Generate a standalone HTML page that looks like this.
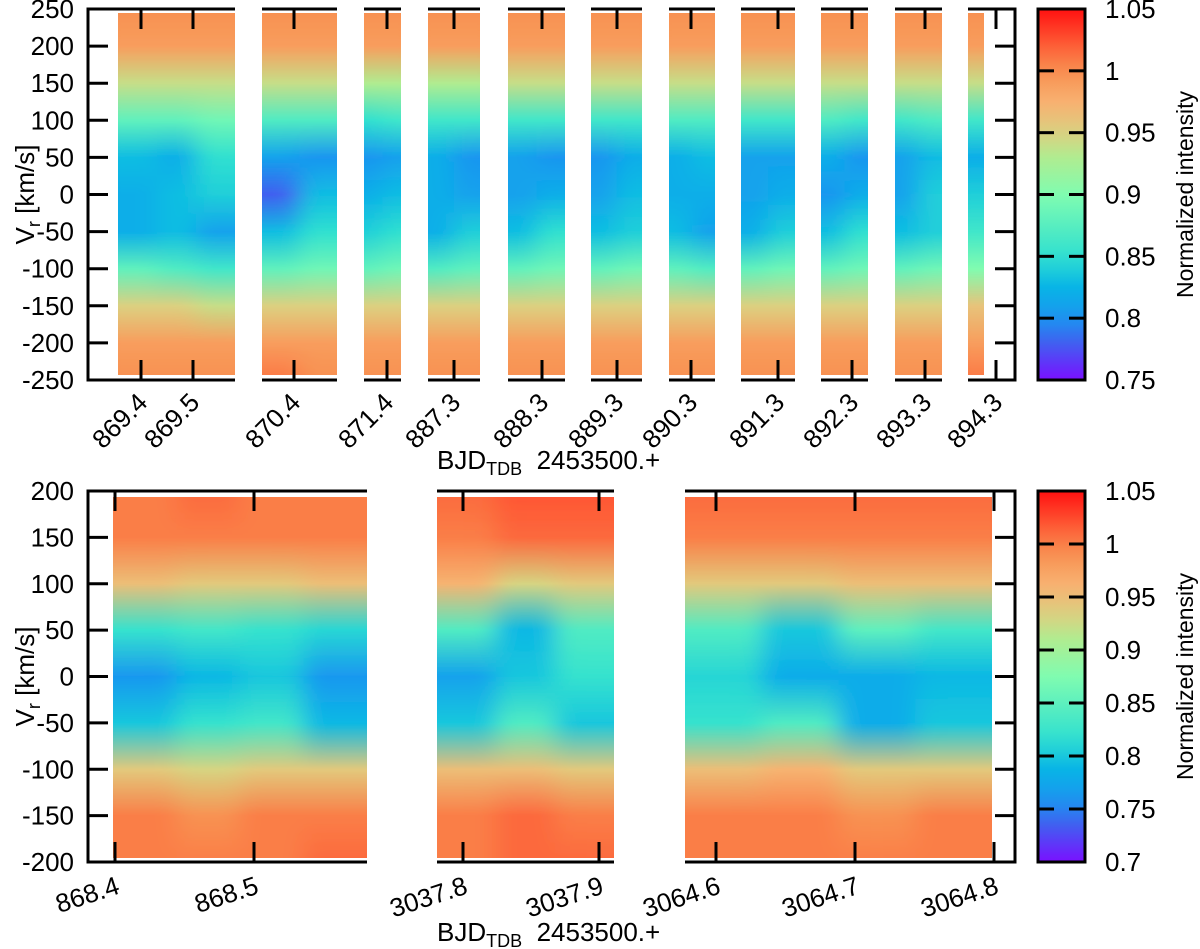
<!DOCTYPE html>
<html><head><meta charset="utf-8"><style>
html,body{margin:0;padding:0;background:#fff}
svg{display:block}
text{font-family:"Liberation Sans",sans-serif;fill:#000}
</style></head><body>
<svg id="fig" width="1200" height="949" viewBox="0 0 1200 949" xmlns="http://www.w3.org/2000/svg">
<defs id="defs">
<filter id="hblur" x="-20%" y="0" width="140%" height="100%"><feGaussianBlur stdDeviation="12 0"/></filter>
</defs>
<g id="top"></g>
<g id="bot"></g>
</svg>
<script>
// ---------- data ----------
const topVel = [250,200,150,100,50,0,-50,-100,-150,-200,-250];
const topTicks = ["869.4","869.5","870.4","871.4","887.3","888.3","889.3","890.3","891.3","892.3","893.3","894.3"];
const topYTicks = [250,200,150,100,50,0,-50,-100,-150,-200,-250];
const topCbTicks = ["1.05","1","0.95","0.9","0.85","0.8","0.75"];
const topStrip1 = [[1.0,0.99,0.94,0.88,0.83,0.82,0.82,0.88,0.95,0.99,1.0],[1.0,0.99,0.94,0.88,0.82,0.83,0.83,0.87,0.95,0.99,1.0],[1.0,0.99,0.94,0.89,0.85,0.84,0.81,0.86,0.94,0.99,1.0]];
const topStrip2 = [[1.0,0.99,0.94,0.87,0.81,0.78,0.83,0.88,0.95,0.99,1.01],[1.0,0.99,0.94,0.87,0.80,0.83,0.85,0.89,0.95,0.99,1.0]];
const topStrip3 = [[1.0,0.99,0.93,0.85,0.80,0.82,0.84,0.88,0.95,0.99,1.0],[1.0,0.99,0.93,0.86,0.81,0.83,0.85,0.89,0.95,0.99,1.0]];
const topStrip4 = [[1.0,0.99,0.93,0.86,0.82,0.82,0.82,0.87,0.95,0.99,1.0],[1.0,0.99,0.93,0.86,0.80,0.81,0.84,0.88,0.95,0.99,1.0]];
const topStrip5 = [[1.0,0.99,0.94,0.86,0.81,0.81,0.83,0.88,0.95,0.99,1.0],[1.0,0.99,0.94,0.86,0.80,0.82,0.85,0.89,0.95,0.99,1.0]];
const topStrip6 = [[1.0,0.99,0.94,0.86,0.80,0.81,0.83,0.88,0.95,0.99,1.0],[1.0,0.99,0.94,0.86,0.82,0.83,0.84,0.89,0.95,0.99,1.0]];
const topStrip7 = [[1.0,0.99,0.94,0.87,0.82,0.82,0.83,0.88,0.95,0.99,1.0],[1.0,0.99,0.94,0.87,0.83,0.82,0.81,0.87,0.95,0.99,1.0]];
const topStrip8 = [[1.0,0.99,0.94,0.86,0.81,0.81,0.82,0.88,0.95,0.99,1.0],[1.0,0.99,0.94,0.86,0.81,0.82,0.84,0.89,0.95,0.99,1.0]];
const topStrip9 = [[1.0,0.99,0.94,0.87,0.82,0.80,0.83,0.88,0.95,0.99,1.0],[1.0,0.99,0.94,0.86,0.80,0.82,0.85,0.89,0.95,0.99,1.0]];
const topStrip10 = [[1.0,0.99,0.94,0.86,0.81,0.81,0.83,0.88,0.95,0.99,1.0],[1.0,0.99,0.94,0.87,0.83,0.84,0.84,0.89,0.95,0.99,1.0]];
const topStrip11 = [[1.0,0.99,0.94,0.86,0.82,0.84,0.86,0.90,0.96,0.99,1.01]];

const botVel = [200,150,100,50,0,-50,-100,-150,-200];
const botTicks = ["868.4","868.5","3037.8","3037.9","3064.6","3064.7","3064.8"];
const botYTicks = [200,150,100,50,0,-50,-100,-150,-200];
const botCbTicks = ["1.05","1","0.95","0.9","0.85","0.8","0.75","0.7"];
const botStrip1 = [[1.0,1.0,0.95,0.82,0.76,0.80,0.94,1.0,1.0],[1.01,1.0,0.94,0.83,0.79,0.82,0.93,0.99,1.0],[1.0,1.0,0.94,0.82,0.80,0.83,0.94,1.0,1.0],[1.0,1.0,0.95,0.81,0.76,0.79,0.94,1.0,1.01]];
const botStrip2 = [[1.01,1.0,0.96,0.84,0.77,0.80,0.95,1.0,1.0],[1.02,1.01,0.93,0.79,0.80,0.84,0.95,1.01,1.01],[1.02,1.01,0.94,0.84,0.82,0.80,0.94,1.0,1.01]];
const botStrip3 = [[1.01,1.0,0.94,0.84,0.81,0.82,0.95,1.0,1.0],[1.01,1.0,0.94,0.80,0.78,0.84,0.96,1.0,1.0],[1.01,1.0,0.95,0.85,0.78,0.78,0.94,0.99,1.0],[1.01,1.0,0.95,0.83,0.79,0.80,0.94,1.0,1.0]];

// ---------- colormap ----------
const CM=[[0,[122,16,255]],[0.1,[64,96,240]],[0.167,[26,150,240]],[0.25,[8,180,230]],[0.333,[48,224,208]],[0.5,[128,252,176]],[0.6,[176,236,144]],[0.667,[220,208,128]],[0.75,[248,176,112]],[0.833,[248,144,80]],[0.92,[255,80,48]],[1,[255,16,16]]];
function cmap(t){t=Math.max(0,Math.min(1,t));for(let i=1;i<CM.length;i++){if(t<=CM[i][0]){const a=CM[i-1],b=CM[i],f=(t-a[0])/(b[0]-a[0]);const c=a[1].map((v,k)=>Math.round(v+(b[1][k]-v)*f));return `rgb(${c[0]},${c[1]},${c[2]})`;}}return 'rgb(255,16,16)';}

const NS="http://www.w3.org/2000/svg";
const defs=document.getElementById('defs');
let gid=0;
function el(tag,attrs,parent){const e=document.createElementNS(NS,tag);for(const k in attrs)e.setAttribute(k,attrs[k]);parent.appendChild(e);return e;}

function drawPanel(g,cfg){
  const {y0,y1,vmax,vmin,cmin,cmax,vel,strips,tickX,tickLabels,yTicks,cbTicks,rot,segs,stripY0,stripY1,labelY,labelDx,xlabY}=cfg;
  const yS=v=>y0+(vmax-v)/(vmax-vmin)*(y1-y0);
  const cS=c=>y1-(c-cmin)/(cmax-cmin)*(y1-y0);
  strips.forEach((s,si)=>{
    const clipId='clip'+(gid++);
    const cp=el('clipPath',{id:clipId},defs);
    el('rect',{x:s.x0,y:stripY0,width:s.x1-s.x0,height:stripY1-stripY0},cp);
    const sg=el('g',{'clip-path':`url(#${clipId})`},g);
    
    
    const inner=el('g',{filter:'url(#hblur)'},sg);
    const n=s.data.length, w=(s.x1-s.x0)/n;
    s.data.forEach((col,ci)=>{
      const id='gr'+(gid++);
      const lg=el('linearGradient',{id:id,x1:0,y1:yS(vel[0]),x2:0,y2:yS(vel[vel.length-1]),gradientUnits:'userSpaceOnUse'},defs);
      col.forEach((val,k)=>{
        const off=(yS(vel[k])-yS(vel[0]))/(yS(vel[vel.length-1])-yS(vel[0]));
        el('stop',{offset:off,'stop-color':cmap((val-cmin)/(cmax-cmin))},lg);
      });
      let x=s.x0+ci*w, ww=w+0.6;
      if(ci===0){x-=30;ww+=30;}
      if(ci===n-1){ww+=30;}
      const r=el('rect',{x:x.toFixed(2),y:stripY0,width:ww.toFixed(2),height:stripY1-stripY0,fill:`url(#${id})`},inner);
      
      
    });
  });
  const ax=el('g',{stroke:'#000','stroke-width':3,fill:'none'},g);
  
  
  el('line',{x1:88,y1:y0-1.5,x2:88,y2:y1+1.5},ax);
  el('line',{x1:1015,y1:y0-1.5,x2:1015,y2:y1+1.5},ax);
  segs.forEach(sg=>{el('line',{x1:sg[0],y1:y0,x2:sg[1],y2:y0},ax);el('line',{x1:sg[0],y1:y1,x2:sg[1],y2:y1},ax);});
  yTicks.forEach(v=>{
    const y=yS(v);
    el('line',{x1:88,y1:y,x2:108,y2:y},ax);
    el('line',{x1:995,y1:y,x2:1015,y2:y},ax);
    const t=el('text',{x:74,y:y+9,'text-anchor':'end','font-size':26},g);
    t.textContent=v;
    
    
  });
  tickLabels.forEach((lab,i)=>{
    const x=tickX[i];
    el('line',{x1:x,y1:y0,x2:x,y2:y0+20},ax);
    el('line',{x1:x,y1:y1,x2:x,y2:y1-20},ax);
    const tx=x+labelDx;
    const t=el('text',{x:tx,y:labelY,'text-anchor':'end','font-size':26,transform:`rotate(${rot} ${tx} ${labelY})`},g);
    t.textContent=lab;
    
    
  });
  const yl=el('text',{x:0,y:0,'font-size':26,transform:`translate(34 ${(y0+y1)/2}) rotate(-90)`,'text-anchor':'middle'},g);
  yl.innerHTML='V<tspan font-size="18" dy="6">r</tspan><tspan dy="-6"> [km/s]</tspan>';
  
  
  const xl=el('text',{x:437,y:xlabY,'font-size':26},g);
  xl.innerHTML='BJD<tspan font-size="18" dy="6">TDB</tspan><tspan dy="-6" xml:space="preserve">  2453500.+</tspan>';
  
  
  const cid='cb'+(gid++);
  const cg=el('linearGradient',{id:cid,x1:0,y1:1,x2:0,y2:0},defs);
  for(let i=0;i<=20;i++)el('stop',{offset:i/20,'stop-color':cmap(i/20)},cg);
  const cb=el('g',{},g);
  
  
  el('rect',{x:1038,y:y0,width:47,height:y1-y0,fill:`url(#${cid})`,stroke:'#000','stroke-width':3},cb);
  cbTicks.forEach(lab=>{
    const y=cS(parseFloat(lab));
    if(y>y0+2&&y<y1-2){el('line',{x1:1038,y1:y,x2:1054,y2:y,stroke:'#000','stroke-width':3},cb);el('line',{x1:1069,y1:y,x2:1085,y2:y,stroke:'#000','stroke-width':3},cb);}
    const t=el('text',{x:1105,y:y+9,'font-size':26},cb);
    t.textContent=lab;
    
    
  });
  const ct=el('text',{x:0,y:0,'font-size':23,'text-anchor':'middle',transform:`translate(1193 ${(y0+y1)/2}) rotate(-90)`},cb);
  ct.textContent='Normalized intensity';
  
  
}

drawPanel(document.getElementById('top'),{
  y0:9,y1:380,vmax:250,vmin:-250,cmin:0.75,cmax:1.05,vel:topVel,stripY0:13,stripY1:375,
  strips:[{x0:118,x1:235,data:topStrip1},{x0:262,x1:337,data:topStrip2},{x0:364,x1:401,data:topStrip3},{x0:428,x1:480,data:topStrip4},{x0:508,x1:565,data:topStrip5},{x0:591,x1:642,data:topStrip6},{x0:669,x1:715,data:topStrip7},{x0:741,x1:795,data:topStrip8},{x0:821,x1:868,data:topStrip9},{x0:895,x1:942,data:topStrip10},{x0:968,x1:984,data:topStrip11}],
  segs:[[88,235],[262,337],[364,401],[428,480],[508,565],[591,642],[669,715],[741,795],[821,868],[895,942],[968,1015]],
  tickX:[141,193,294,387,454,542,617,691,778,852,925,996],tickLabels:topTicks,yTicks:topYTicks,cbTicks:topCbTicks,rot:-45,labelY:404,labelDx:8,xlabY:469
});
drawPanel(document.getElementById('bot'),{
  y0:491,y1:862,vmax:200,vmin:-200,cmin:0.7,cmax:1.05,vel:botVel,stripY0:497,stripY1:858,
  strips:[{x0:113,x1:367,data:botStrip1},{x0:437,x1:614,data:botStrip2},{x0:685,x1:992,data:botStrip3}],
  segs:[[88,367],[437,614],[685,1015]],
  tickX:[115,254,463,599,716,855,994],tickLabels:botTicks,yTicks:botYTicks,cbTicks:botCbTicks,rot:-18,labelY:893,labelDx:6,xlabY:941
});
</script>
</body></html>
